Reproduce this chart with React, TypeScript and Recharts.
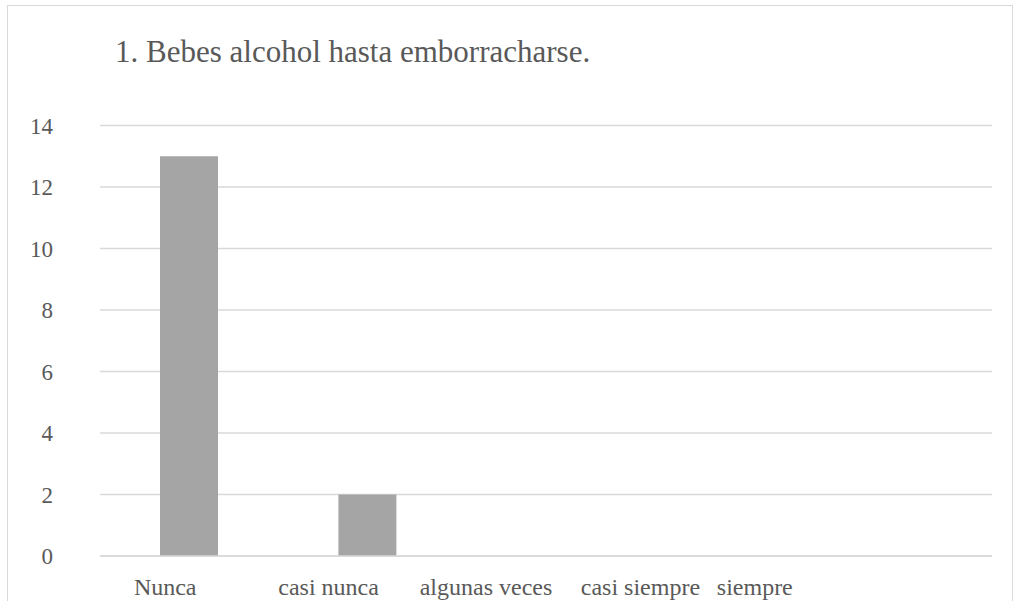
import { BarChart, Bar, XAxis, YAxis, CartesianGrid } from 'recharts';

const TITLE = '1. Bebes alcohol hasta emborracharse.';
const CATEGORIES = ['Nunca', 'casi nunca', 'algunas veces', 'casi siempre', 'siempre'];
const COUNTS = [13, 2, 0, 0, 0];
const Y_TICKS = [0, 2, 4, 6, 8, 10, 12, 14];

// the source labels sit left of their bars; shift each one like the original
const LABEL_SHIFT = [-24, -39, -60, -84, -148];

const FONT = '"Liberation Serif", "Times New Roman", serif';
const TEXT = '#595959';
const GRID = '#d9d9d9';

const data = CATEGORIES.map((name, i) => ({ name, value: COUNTS[i] }));

function CategoryTick({ x, y, payload, index }: any) {
  return (
    <text
      x={x + (LABEL_SHIFT[index] ?? 0)}
      y={y + 39}
      textAnchor="middle"
      fill={TEXT}
      fontSize={24}
      fontFamily={FONT}
    >
      {payload.value}
    </text>
  );
}

function ValueTick({ x, y, payload }: any) {
  return (
    <text x={x} y={y} dy="0.36em" textAnchor="end" fill={TEXT} fontSize={23} fontFamily={FONT}>
      {payload.value}
    </text>
  );
}

export default function App() {
  return (
    <div
      style={{
        position: 'absolute',
        left: 7,
        top: 5,
        width: 1006,
        height: 640,
        boxSizing: 'border-box',
        border: `1px solid ${GRID}`,
        background: '#fff',
      }}
    >
      <svg width={1004} height={80} style={{ position: 'absolute', left: 0, top: 0 }}>
        <text x={107} y={56} fill={TEXT} fontSize={31} fontFamily={FONT}>
          {TITLE}
        </text>
      </svg>
      <BarChart
        width={1004}
        height={630}
        data={data}
        margin={{ top: 119.5, right: 20, bottom: 40, left: 0 }}
      >
        <CartesianGrid vertical={false} stroke={GRID} strokeWidth={1.5} />
        <XAxis
          dataKey="name"
          axisLine={{ stroke: GRID, strokeWidth: 1.5 }}
          tickLine={false}
          tickSize={0}
          tickMargin={0}
          height={40}
          interval={0}
          tick={<CategoryTick />}
        />
        <YAxis
          domain={[0, 14]}
          ticks={Y_TICKS}
          width={92}
          axisLine={false}
          tickLine={false}
          tickSize={0}
          tickMargin={47}
          tick={<ValueTick />}
        />
        <Bar dataKey="value" fill="#a5a5a5" barSize={58} isAnimationActive={false} />
      </BarChart>
    </div>
  );
}
